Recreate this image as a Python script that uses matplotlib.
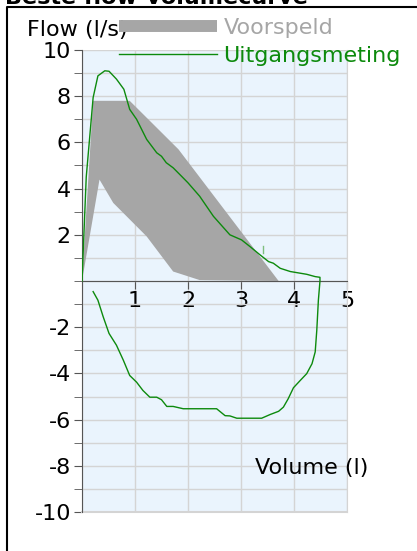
import numpy as np
import matplotlib.pyplot as plt
from matplotlib.lines import Line2D

# measured curve (expiration then inspiration), volume in l, flow in l/s
vol_meas = [0.0, 0.08, 0.21, 0.30, 0.43, 0.51, 0.65, 0.79, 0.90, 1.03, 1.22, 1.41, 1.50,
            1.59, 1.72, 1.88, 2.00, 2.22, 2.48, 2.79, 3.01, 3.17, 3.36, 3.52, 3.61,
            3.74, 3.93, 4.24, 4.40, 4.49,
            4.49, 4.46, 4.43, 4.40, 4.34, 4.24, 4.12, 3.99, 3.89, 3.80, 3.71, 3.55,
            3.39, 2.92, 2.79, 2.70, 2.54, 1.91, 1.72, 1.60, 1.50, 1.41, 1.28, 1.15,
            1.03, 0.90, 0.78, 0.65, 0.51, 0.40, 0.30, 0.21]
flow_meas = [0.0, 4.5, 7.94, 8.88, 9.10, 9.08, 8.74, 8.30, 7.43, 7.00, 6.13, 5.55, 5.40,
             5.12, 4.90, 4.53, 4.25, 3.67, 2.80, 2.00, 1.78, 1.49, 1.13, 0.84, 0.77,
             0.55, 0.41, 0.29, 0.19, 0.16,
             0.0, -0.83, -2.13, -3.07, -3.58, -4.01, -4.30, -4.62, -5.10, -5.46, -5.64, -5.78,
             -5.94, -5.94, -5.84, -5.83, -5.53, -5.53, -5.43, -5.43, -5.14, -5.03, -5.03, -4.74,
             -4.38, -4.09, -3.43, -2.78, -2.27, -1.55, -0.83, -0.46]

# predicted band
vol_upper = [0.0, 0.21, 0.90, 1.82, 3.71]
flow_upper = [0.0, 7.8, 7.8, 5.7, 0.0]
vol_lower = [3.71, 2.22, 1.72, 1.22, 0.59, 0.33, 0.0]
flow_lower = [0.0, 0.04, 0.41, 1.93, 3.38, 4.39, 0.0]

W, H = 417, 551
plt.rcParams['font.family'] = 'DejaVu Sans'
plt.rcParams['axes.unicode_minus'] = False
fig = plt.figure(figsize=(W / 100, H / 100), dpi=100)
fs = 16

ax = fig.add_axes([82 / W, 1 - 512 / H, (347 - 82) / W, (512 - 50) / H])
ax.set_facecolor('#eaf4fd')
ax.set_xlim(0, 5)
ax.set_ylim(-10, 10)

ax.fill(vol_upper + vol_lower, flow_upper + flow_lower, color='#a6a6a6', lw=0, zorder=2)
ax.plot(vol_meas, flow_meas, color='#0d8a0d', lw=1.0, zorder=3)
ax.plot([3.42, 3.42], [1.2, 1.5], color='#7fbf7f', lw=1, zorder=3)

ax.set_xticks([1, 2, 3, 4, 5])
ax.set_yticks([-10, -8, -6, -4, -2, 2, 4, 6, 8, 10])
ax.set_yticks(np.arange(-10, 11, 1), minor=True)
ax.set_xticks(np.arange(0, 6, 1), minor=True)
ax.grid(True, which='both', color='#d4d4d4', lw=1, zorder=0)
ax.set_axisbelow(True)

ax.spines['bottom'].set_position(('data', 0))
ax.spines['top'].set_visible(False)
ax.spines['right'].set_color('#d4d4d4')
ax.spines['left'].set_color('#555555')
ax.spines['bottom'].set_color('#555555')
ax.tick_params(axis='both', which='both', direction='out', color='#555555', length=6, labelsize=fs)
ax.tick_params(axis='x', which='both', pad=1)
ax.tick_params(axis='y', pad=2)
ax.plot([0, 5], [-10, -10], color='#d4d4d4', lw=1.5, clip_on=False, zorder=1)

ax.text(4.34, -8.1, 'Volume (l)', fontsize=fs, ha='center', va='center', clip_on=False)

fig.text(27 / W, 1 - 30 / H, 'Flow (l/s)', fontsize=fs, ha='left', va='center')
fig.text(5 / W, 1 - 4 / H, 'Beste flow-volumecurve', fontsize=fs, fontweight='bold',
         ha='left', va='baseline')

handles = [Line2D([], [], color='#a6a6a6', lw=8.6, solid_capstyle='butt'),
           Line2D([], [], color='#0d8a0d', lw=1)]
fig.legend(handles, ['Voorspeld', 'Uitgangsmeting'], loc='upper left',
           bbox_to_anchor=(119 / W, 1 - 18 / H), bbox_transform=fig.transFigure,
           frameon=False, fontsize=fs, handlelength=4.4, handletextpad=0.3,
           labelspacing=0.35, borderpad=0, borderaxespad=0,
           labelcolor=['#a6a6a6', '#0d8a0d'])

# outer frame (top and left edges)
fig.add_artist(Line2D([7 / W, 7 / W, 1], [0, 1 - 7 / H, 1 - 7 / H], color='black', lw=1.5,
                      transform=fig.transFigure))

plt.savefig('out.png', dpi=100)
